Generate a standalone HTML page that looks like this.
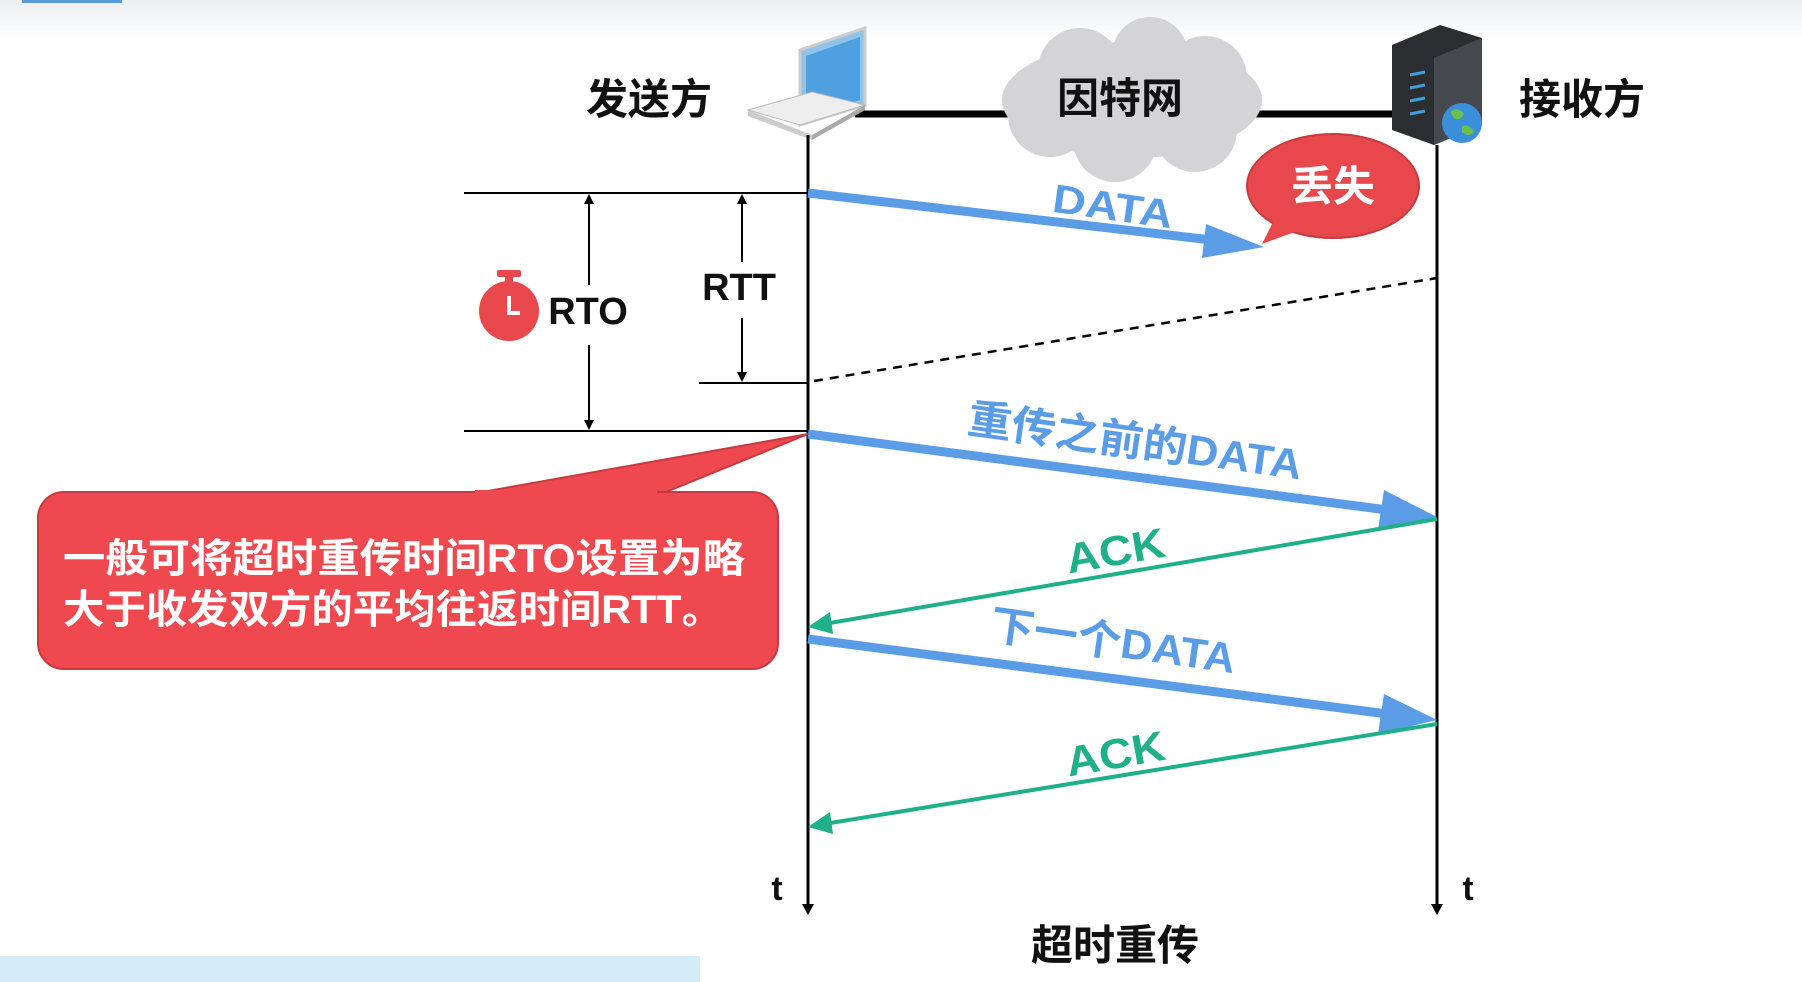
<!DOCTYPE html>
<html><head><meta charset="utf-8"><style>
html,body{margin:0;padding:0;background:#fff;}
svg{display:block;}
text{font-family:"Liberation Sans","Noto Sans CJK SC",sans-serif;font-weight:bold;}
</style></head><body>
<svg width="1802" height="982" viewBox="0 0 1802 982" xmlns="http://www.w3.org/2000/svg">
<defs>
<linearGradient id="top" x1="0" y1="0" x2="0" y2="1"><stop offset="0" stop-color="#eceef0"/><stop offset="1" stop-color="#ffffff"/></linearGradient>
</defs>
<rect x="0" y="0" width="1802" height="40" fill="url(#top)"/>
<rect x="22" y="0" width="100" height="3" fill="#5b9bd5"/>
<rect x="0" y="956" width="700" height="26" fill="#d3ecf7"/>

<line x1="855" y1="114" x2="1400" y2="114" stroke="#000" stroke-width="7"/>
<g fill="#d4d4d6">
<ellipse cx="1132" cy="100" rx="130" ry="58"/>
<circle cx="1080" cy="70" r="42"/><circle cx="1150" cy="55" r="38"/><circle cx="1205" cy="78" r="42"/>
<circle cx="1050" cy="115" r="42"/><circle cx="1115" cy="140" r="42"/><circle cx="1195" cy="130" r="42"/>
</g>
<text x="1120" y="113" font-size="42" text-anchor="middle" fill="#111">因特网</text>

<polygon points="800,50 865,28 865,105 800,125" fill="#8fc3ea" stroke="#ccc" stroke-width="3"/>
<polygon points="806,56 860,37 860,100 806,118" fill="#4ea0e0"/>
<polygon points="748,110 800,125 865,105 812,92" fill="#eeeeee" stroke="#bbb"/>
<polygon points="748,110 812,135 812,140 748,116" fill="#ccc"/>
<polygon points="812,135 865,105 865,110 812,140" fill="#aaa"/>

<polygon points="1392,45 1440,25 1482,38 1482,125 1434,145 1392,130" fill="#2b2d30"/>
<polygon points="1434,58 1482,38 1482,125 1434,145" fill="#45484c"/>
<g stroke="#3aa0e0" stroke-width="3"><line x1="1410" y1="75" x2="1425" y2="72"/><line x1="1410" y1="88" x2="1425" y2="85"/><line x1="1410" y1="101" x2="1425" y2="98"/><line x1="1410" y1="114" x2="1425" y2="111"/></g>
<circle cx="1462" cy="123" r="20" fill="#3a8fd8"/>
<path d="M1450,112 q8,-6 14,2 q-4,8 -10,4z M1462,126 q8,-2 12,6 q-6,6 -12,0z" fill="#6bc04a"/>

<text x="649" y="114" font-size="42" text-anchor="middle" fill="#111">发送方</text>
<text x="1582" y="114" font-size="42" text-anchor="middle" fill="#111">接收方</text>

<line x1="808" y1="135" x2="808" y2="905" stroke="#000" stroke-width="3"/>
<polygon points="802,904 814,904 808,915" fill="#000"/>
<line x1="1437" y1="145" x2="1437" y2="905" stroke="#000" stroke-width="3"/>
<polygon points="1431,904 1443,904 1437,915" fill="#000"/>
<text x="777" y="900" font-size="34" text-anchor="middle" fill="#111" font-weight="normal">t</text>
<text x="1468" y="900" font-size="34" text-anchor="middle" fill="#111" font-weight="normal">t</text>

<g stroke="#000" stroke-width="2">
<line x1="464" y1="193" x2="808" y2="193"/>
<line x1="699" y1="383" x2="808" y2="383"/>
<line x1="464" y1="431" x2="808" y2="431"/>
<line x1="589" y1="200" x2="589" y2="285" />
<line x1="589" y1="345" x2="589" y2="425" />
<line x1="742" y1="200" x2="742" y2="262"/>
<line x1="742" y1="318" x2="742" y2="376"/>
</g>
<g fill="#000">
<polygon points="584,204 594,204 589,194"/><polygon points="584,420 594,420 589,430"/>
<polygon points="737,204 747,204 742,194"/><polygon points="737,372 747,372 742,382"/>
</g>
<text x="739" y="300" font-size="38" text-anchor="middle" fill="#111" font-weight="normal">RTT</text>
<text x="588" y="324" font-size="38" text-anchor="middle" fill="#111" font-weight="normal">RTO</text>
<rect x="497" y="270" width="24" height="7" rx="2" fill="#e8474c"/>
<rect x="505" y="275" width="8" height="8" fill="#e8474c"/>
<circle cx="509" cy="311" r="30" fill="#e8474c"/>
<path d="M509,296 L509,313 L520,313" stroke="#fff" stroke-width="4" fill="none"/>

<line x1="808" y1="193" x2="1220" y2="241" stroke="#5a9de6" stroke-width="9"/>
<polygon points="1206,224 1264,247 1202,258" fill="#5a9de6"/>
<text transform="translate(1111,220) rotate(8)" font-size="40" text-anchor="middle" fill="#5a9de6" textLength="121" lengthAdjust="spacingAndGlyphs">DATA</text>
<ellipse cx="1333" cy="186" rx="86" ry="52" fill="#e8474c" stroke="#c53b40" stroke-width="2"/>
<path d="M1275,218 L1262,244 L1300,230 z" fill="#e8474c"/>
<text x="1333" y="201" font-size="42" text-anchor="middle" fill="#fff">丢失</text>

<line x1="814" y1="381" x2="1437" y2="278" stroke="#000" stroke-width="2.5" stroke-dasharray="9,7"/>

<line x1="808" y1="434" x2="1395" y2="511" stroke="#5a9de6" stroke-width="9"/>
<polygon points="1384,490 1437,517 1378,530" fill="#5a9de6"/>
<text transform="translate(1133,456) rotate(8)" font-size="42" text-anchor="middle" fill="#5a9de6" textLength="337" lengthAdjust="spacingAndGlyphs">重传之前的DATA</text>

<line x1="1437" y1="519" x2="818" y2="625" stroke="#1fb08a" stroke-width="4"/>
<polygon points="808,627 830,612 833,634" fill="#1fb08a"/>
<text transform="translate(1118,565) rotate(-10)" font-size="42" text-anchor="middle" fill="#1fb08a" textLength="100" lengthAdjust="spacingAndGlyphs">ACK</text>

<line x1="808" y1="639" x2="1395" y2="715" stroke="#5a9de6" stroke-width="9"/>
<polygon points="1384,694 1437,720 1378,734" fill="#5a9de6"/>
<text transform="translate(1111,656) rotate(8)" font-size="42" text-anchor="middle" fill="#5a9de6" textLength="247" lengthAdjust="spacingAndGlyphs">下一个DATA</text>

<line x1="1437" y1="724" x2="818" y2="825" stroke="#1fb08a" stroke-width="4"/>
<polygon points="808,827 830,812 833,834" fill="#1fb08a"/>
<text transform="translate(1118,768) rotate(-10)" font-size="42" text-anchor="middle" fill="#1fb08a" textLength="100" lengthAdjust="spacingAndGlyphs">ACK</text>

<path d="M471,494 L808,434 L661,494 z" fill="#f0484f" stroke="#c53b40" stroke-width="2"/>
<rect x="38" y="492" width="740" height="177" rx="26" fill="#f0484f" stroke="#c53b40" stroke-width="2"/>
<rect x="475" y="490" width="182" height="6" fill="#f0484f"/>
<text x="63" y="572" font-size="40" fill="#fff" textLength="682" lengthAdjust="spacingAndGlyphs">一般可将超时重传时间RTO设置为略</text>
<text x="63" y="623" font-size="40" fill="#fff" textLength="660" lengthAdjust="spacingAndGlyphs">大于收发双方的平均往返时间RTT。</text>

<text x="1115" y="960" font-size="42" text-anchor="middle" fill="#111">超时重传</text>
</svg>
</body></html>
